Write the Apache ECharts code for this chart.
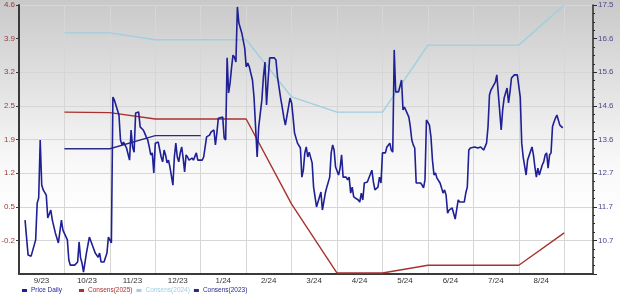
<!DOCTYPE html>
<html>
<head>
<meta charset="utf-8">
<script src="https://cdn.jsdelivr.net/npm/echarts@6/dist/echarts.min.js"></script>
<style>
html,body{margin:0;padding:0;background:#fff;}
#c{width:620px;height:294px;}
</style>
</head>
<body>
<div id="c"></div>
<script>
// ---- data ----
const MONTH_LABELS = ['9/23','10/23','11/23','12/23','1/24','2/24','3/24','4/24','5/24','6/24','7/24','8/24'];
const X_START = '2023-09-01';
const X_END = '2024-09-20';

const LEFT_MIN = -0.9, LEFT_MAX = 4.6, LEFT_STEP = 0.6875;
const RIGHT_MIN = 9.765, RIGHT_MAX = 17.525, RIGHT_STEP = 0.97;

const CONS_DATES = ['2023-10-01','2023-11-01','2023-12-01','2024-01-01','2024-02-01','2024-03-01','2024-04-01','2024-05-01','2024-06-01','2024-07-01','2024-08-01','2024-09-01'];
const CONS_2025 = [2.41, 2.40, 2.27, 2.27, 2.27, 0.53, -0.88, -0.88, -0.72, -0.72, -0.72, -0.06];
const CONS_2024 = [4.03, 4.03, 3.89, 3.89, 3.89, 2.72, 2.41, 2.41, 3.78, 3.78, 3.78, 4.60];
const CONS_2023 = [1.66, 1.66, 1.93, 1.93];

const PRICE_DATES = [
'2023-09-05','2023-09-07','2023-09-09','2023-09-12','2023-09-13','2023-09-14','2023-09-15','2023-09-16','2023-09-17','2023-09-19',
'2023-09-20','2023-09-22','2023-09-23','2023-09-25','2023-09-27','2023-09-29','2023-09-30','2023-10-03','2023-10-04','2023-10-05',
'2023-10-06','2023-10-08','2023-10-10','2023-10-11','2023-10-12','2023-10-13','2023-10-14','2023-10-16','2023-10-18','2023-10-20',
'2023-10-22','2023-10-24','2023-10-25','2023-10-26','2023-10-28','2023-10-30','2023-10-31','2023-11-02','2023-11-03','2023-11-04',
'2023-11-07','2023-11-08','2023-11-09','2023-11-10','2023-11-12','2023-11-14','2023-11-15','2023-11-16','2023-11-17','2023-11-18',
'2023-11-20','2023-11-21','2023-11-23','2023-11-24','2023-11-25','2023-11-26','2023-11-27','2023-11-28','2023-11-29','2023-11-30',
'2023-12-01','2023-12-03','2023-12-04','2023-12-05','2023-12-06','2023-12-07','2023-12-08','2023-12-09','2023-12-10','2023-12-11',
'2023-12-13','2023-12-14','2023-12-15','2023-12-16','2023-12-17','2023-12-18','2023-12-19','2023-12-20','2023-12-21','2023-12-22',
'2023-12-23','2023-12-24','2023-12-26','2023-12-27','2023-12-29','2023-12-30','2023-12-31','2024-01-02','2024-01-03','2024-01-04',
'2024-01-05','2024-01-07','2024-01-08','2024-01-10','2024-01-11','2024-01-12','2024-01-13','2024-01-14','2024-01-16','2024-01-17',
'2024-01-18','2024-01-19','2024-01-20','2024-01-21','2024-01-22','2024-01-23','2024-01-24','2024-01-25','2024-01-26','2024-01-27',
'2024-01-29','2024-01-31','2024-02-01','2024-02-02','2024-02-03','2024-02-05','2024-02-06','2024-02-07','2024-02-08','2024-02-09',
'2024-02-11','2024-02-12','2024-02-13','2024-02-14','2024-02-15','2024-02-16','2024-02-17','2024-02-19','2024-02-20','2024-02-21',
'2024-02-23','2024-02-24','2024-02-25','2024-02-26','2024-02-28','2024-02-29','2024-03-01','2024-03-02','2024-03-03','2024-03-05',
'2024-03-07','2024-03-08','2024-03-09','2024-03-10','2024-03-11','2024-03-12','2024-03-13','2024-03-15','2024-03-16','2024-03-18',
'2024-03-19','2024-03-21','2024-03-22','2024-03-24','2024-03-25','2024-03-27','2024-03-28','2024-03-29','2024-03-30','2024-03-31',
'2024-04-02','2024-04-03','2024-04-04','2024-04-05','2024-04-07','2024-04-08','2024-04-09','2024-04-10','2024-04-11','2024-04-12',
'2024-04-13','2024-04-15','2024-04-16','2024-04-17','2024-04-18','2024-04-19','2024-04-21','2024-04-22','2024-04-24','2024-04-25',
'2024-04-26','2024-04-28','2024-04-29','2024-04-30','2024-05-01','2024-05-02','2024-05-03','2024-05-04','2024-05-06','2024-05-07',
'2024-05-08','2024-05-09','2024-05-10','2024-05-12','2024-05-13','2024-05-14','2024-05-15','2024-05-16','2024-05-17','2024-05-19',
'2024-05-20','2024-05-21','2024-05-22','2024-05-23','2024-05-24','2024-05-25','2024-05-27','2024-05-28','2024-05-29','2024-05-30',
'2024-05-31','2024-06-02','2024-06-03','2024-06-04','2024-06-05','2024-06-06','2024-06-07','2024-06-09','2024-06-10','2024-06-11',
'2024-06-12','2024-06-13','2024-06-14','2024-06-15','2024-06-17','2024-06-18','2024-06-19','2024-06-20','2024-06-21','2024-06-22',
'2024-06-23','2024-06-25','2024-06-26','2024-06-27','2024-06-28','2024-06-29','2024-07-02','2024-07-04','2024-07-06','2024-07-08',
'2024-07-09','2024-07-10','2024-07-11','2024-07-12','2024-07-13','2024-07-16','2024-07-17','2024-07-18','2024-07-20','2024-07-21',
'2024-07-22','2024-07-24','2024-07-25','2024-07-26','2024-07-27','2024-07-29','2024-07-30','2024-07-31','2024-08-02','2024-08-03',
'2024-08-04','2024-08-06','2024-08-07','2024-08-08','2024-08-10','2024-08-11','2024-08-12','2024-08-13','2024-08-14','2024-08-15',
'2024-08-17','2024-08-18','2024-08-19','2024-08-20','2024-08-21','2024-08-22','2024-08-23','2024-08-24','2024-08-25','2024-08-26',
'2024-08-27','2024-08-29','2024-08-30','2024-08-31'
];
const PRICE_VALUES = [
11.32,10.31,10.28,10.75,11.81,11.96,13.63,12.33,12.19,12.04,
11.38,11.61,11.32,10.95,10.66,11.32,11.03,10.75,10.17,10.02,
9.97,10.02,10.11,10.69,10.23,10.08,9.82,10.37,10.83,10.60,
10.37,10.25,10.37,10.11,10.11,10.37,10.83,10.66,14.87,14.78,
14.35,13.63,13.49,13.57,13.40,13.05,13.92,13.43,13.28,14.41,
14.44,14.01,13.92,13.83,13.72,13.63,13.43,13.20,13.26,12.68,
13.54,13.57,13.54,13.14,13.00,13.34,13.20,12.97,13.05,12.85,
12.33,13.14,13.54,13.14,13.00,13.26,13.43,13.11,12.71,13.20,
13.14,13.05,13.11,13.05,13.26,13.05,13.05,13.05,13.14,13.43,
13.72,13.77,13.86,13.92,13.49,13.83,14.26,14.29,14.29,13.69,
13.63,16.00,14.99,15.27,15.71,16.08,16.02,15.88,17.47,17.01,
16.72,16.28,15.74,15.85,15.74,15.36,14.87,14.84,13.14,14.01,
14.78,15.45,15.88,14.64,15.36,16.00,16.02,16.00,15.94,15.45,
14.84,14.58,14.29,14.06,14.58,14.84,14.70,14.29,13.83,13.54,
13.40,12.56,12.76,13.26,13.43,13.14,13.28,12.97,12.27,11.70,
11.67,12.13,11.61,12.10,12.27,12.56,13.26,13.49,13.34,12.85,
12.62,12.82,13.20,12.56,12.56,12.48,12.56,12.10,12.27,11.99,
11.96,11.90,11.84,12.10,11.90,12.39,12.42,12.42,12.76,12.42,
12.19,12.27,12.56,12.39,13.26,13.28,13.26,13.43,13.54,13.34,
13.28,16.23,15.02,15.02,15.02,15.36,14.50,14.58,14.55,14.29,
14.01,13.63,13.49,13.40,12.39,12.39,12.39,12.33,12.25,12.48,
14.21,14.06,13.72,13.05,12.62,12.68,12.53,12.39,12.25,12.10,
12.19,12.04,11.52,11.61,11.67,11.70,11.35,11.38,11.90,11.84,
11.81,11.84,12.10,12.27,13.34,13.40,13.43,13.40,13.43,13.34,
13.34,13.54,14.01,14.93,15.07,15.30,15.51,15.56,13.92,14.50,
14.84,15.13,14.70,15.02,15.42,15.51,15.56,15.51,14.87,13.54,
13.14,12.62,13.05,13.08,13.43,13.20,12.85,12.56,12.82,12.62,
12.91,13.00,13.20,13.26,12.82,13.20,13.26,14.01,14.15,14.26,
14.35,14.06,14.09,13.98
];

// ---- helpers ----
// position of a date on a month-based axis (0 = Sep 2023, 1 = Oct 2023, ...)
function monthPos(s) {
  const p = s.split('-').map(Number);
  const dim = new Date(p[0], p[1], 0).getDate();
  return (p[0] - 2023) * 12 + (p[1] - 9) + (p[2] - 1) / dim;
}
function pairs(dates, vals) {
  return vals.map((v, i) => [monthPos(dates[i]), v]);
}
function fmt1(v) { return (Math.round(v * 10 + 1e-6) / 10).toFixed(1); }

const FONT = 'Liberation Sans';
const COL_PRICE = '#1f1f96';
const COL_25 = '#a8322d';
const COL_24 = '#9fcfe0';
const COL_23 = '#2a2a88';

const chart = echarts.init(document.getElementById('c'), null, { renderer: 'canvas' });
chart.setOption({
  animation: false,
  backgroundColor: new echarts.graphic.LinearGradient(0, 0, 0, 1, [
    { offset: 0, color: '#c9c9c9' },
    { offset: 0.55, color: '#f8f8f8' },
    { offset: 0.75, color: '#ffffff' },
    { offset: 1, color: '#ffffff' }
  ]),
  grid: { left: 19, right: 27, top: 5, bottom: 20, containLabel: false, outerBoundsMode: 'none' },
  legend: {
    left: 22, top: 286, padding: 0, itemGap: 4, itemWidth: 5, itemHeight: 3,
    icon: 'rect',
    textStyle: { fontFamily: FONT, fontSize: 6.5, width: 44, lineHeight: 9, padding: [0, 0, 0, -1] },
    data: [
      { name: 'Price Daily', textStyle: { color: COL_PRICE } },
      { name: 'Consens(2025)', textStyle: { color: COL_25 } },
      { name: 'Consens(2024)', textStyle: { color: COL_24 } },
      { name: 'Consens(2023)', textStyle: { color: COL_23 } }
    ]
  },
  xAxis: {
    type: 'value',
    min: monthPos(X_START),
    max: monthPos(X_END),
    interval: 1,
    axisLine: { show: true, onZero: false, lineStyle: { color: '#3a3a3a', width: 2 } },
    axisTick: { show: false },
    splitLine: { show: true, lineStyle: { color: '#d6d6d6', width: 1 } },
    axisLabel: {
      show: true, hideOverlap: false, showMinLabel: true, showMaxLabel: true,
      fontFamily: FONT, fontSize: 8, color: '#333', margin: 3,
      align: 'center', padding: [0, 0, 0, 45],
      formatter: function (v) {
        const i = Math.round(v);
        if (Math.abs(v - i) > 1e-6 || i < 0 || i >= MONTH_LABELS.length) return '';
        return MONTH_LABELS[i];
      }
    }
  },
  yAxis: [
    {
      type: 'value', position: 'left',
      min: LEFT_MIN, max: LEFT_MAX, interval: LEFT_STEP,
      axisLine: { show: true, lineStyle: { color: '#3a3a3a', width: 2 } },
      axisTick: { show: true, length: 3, lineStyle: { color: '#3a3a3a' } },
      splitLine: { show: true, lineStyle: { color: '#d6d6d6', width: 1 } },
      axisLabel: {
        showMinLabel: false, fontFamily: FONT, fontSize: 8, color: '#9a3d3a', margin: 4,
        formatter: fmt1
      }
    },
    {
      type: 'value', position: 'right',
      min: RIGHT_MIN, max: RIGHT_MAX, interval: RIGHT_STEP,
      axisLine: { show: true, lineStyle: { color: '#2a2a2a', width: 1.5 } },
      axisTick: { show: true, length: 4, lineStyle: { color: '#2a2a2a' } },
      minorTick: { show: true, splitNumber: 4, length: 2, lineStyle: { color: '#2a2a2a' } },
      splitLine: { show: false },
      axisLabel: {
        showMinLabel: false, fontFamily: FONT, fontSize: 8, color: '#4a4a90', margin: 5,
        formatter: fmt1
      }
    }
  ],
  series: [
    {
      name: 'Price Daily', type: 'line', yAxisIndex: 1, showSymbol: false, symbol: 'none',
      lineStyle: { color: COL_PRICE, width: 1.6 }, itemStyle: { color: COL_PRICE },
      data: pairs(PRICE_DATES, PRICE_VALUES), z: 3
    },
    {
      name: 'Consens(2025)', type: 'line', yAxisIndex: 0, showSymbol: false, symbol: 'none',
      lineStyle: { color: COL_25, width: 1.4 }, itemStyle: { color: COL_25 },
      data: pairs(CONS_DATES, CONS_2025), z: 2
    },
    {
      name: 'Consens(2024)', type: 'line', yAxisIndex: 0, showSymbol: false, symbol: 'none',
      lineStyle: { color: COL_24, width: 1.4 }, itemStyle: { color: COL_24 },
      data: pairs(CONS_DATES, CONS_2024), z: 2
    },
    {
      name: 'Consens(2023)', type: 'line', yAxisIndex: 0, showSymbol: false, symbol: 'none',
      lineStyle: { color: COL_23, width: 1.4 }, itemStyle: { color: COL_23 },
      data: pairs(CONS_DATES.slice(0, CONS_2023.length), CONS_2023), z: 2
    }
  ]
});
</script>
</body>
</html>
